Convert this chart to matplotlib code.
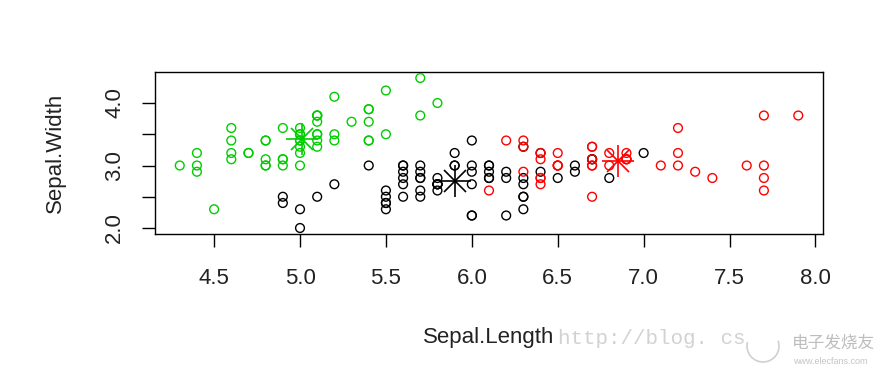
import numpy as np
import matplotlib
matplotlib.use("Agg")
from matplotlib import pyplot as plt
from matplotlib.patches import Arc

# iris sepal measurements, in data order (setosa, versicolor, virginica)
sepal_length = [
    5.1, 4.9, 4.7, 4.6, 5.0, 5.4, 4.6, 5.0, 4.4, 4.9, 5.4, 4.8, 4.8, 4.3, 5.8, 5.7, 5.4, 5.1, 5.7, 5.1,
    5.4, 5.1, 4.6, 5.1, 4.8, 5.0, 5.0, 5.2, 5.2, 4.7, 4.8, 5.4, 5.2, 5.5, 4.9, 5.0, 5.5, 4.9, 4.4, 5.1,
    5.0, 4.5, 4.4, 5.0, 5.1, 4.8, 5.1, 4.6, 5.3, 5.0,
    7.0, 6.4, 6.9, 5.5, 6.5, 5.7, 6.3, 4.9, 6.6, 5.2, 5.0, 5.9, 6.0, 6.1, 5.6, 6.7, 5.6, 5.8, 6.2, 5.6,
    5.9, 6.1, 6.3, 6.1, 6.4, 6.6, 6.8, 6.7, 6.0, 5.7, 5.5, 5.5, 5.8, 6.0, 5.4, 6.0, 6.7, 6.3, 5.6, 5.5,
    5.5, 6.1, 5.8, 5.0, 5.6, 5.7, 5.7, 6.2, 5.1, 5.7,
    6.3, 5.8, 7.1, 6.3, 6.5, 7.6, 4.9, 7.3, 6.7, 7.2, 6.5, 6.4, 6.8, 5.7, 5.8, 6.4, 6.5, 7.7, 7.7, 6.0,
    6.9, 5.6, 7.7, 6.3, 6.7, 7.2, 6.2, 6.1, 6.4, 7.2, 7.4, 7.9, 6.4, 6.3, 6.1, 7.7, 6.3, 6.4, 6.0, 6.9,
    6.7, 6.9, 5.8, 6.8, 6.7, 6.7, 6.3, 6.5, 6.2, 5.9,
]
sepal_width = [
    3.5, 3.0, 3.2, 3.1, 3.6, 3.9, 3.4, 3.4, 2.9, 3.1, 3.7, 3.4, 3.0, 3.0, 4.0, 4.4, 3.9, 3.5, 3.8, 3.8,
    3.4, 3.7, 3.6, 3.3, 3.4, 3.0, 3.4, 3.5, 3.4, 3.2, 3.1, 3.4, 4.1, 4.2, 3.1, 3.2, 3.5, 3.6, 3.0, 3.4,
    3.5, 2.3, 3.2, 3.5, 3.8, 3.0, 3.8, 3.2, 3.7, 3.3,
    3.2, 3.2, 3.1, 2.3, 2.8, 2.8, 3.3, 2.4, 2.9, 2.7, 2.0, 3.0, 2.2, 2.9, 2.9, 3.1, 3.0, 2.7, 2.2, 2.5,
    3.2, 2.8, 2.5, 2.8, 2.9, 3.0, 2.8, 3.0, 2.9, 2.6, 2.4, 2.4, 2.7, 2.7, 3.0, 3.4, 3.1, 2.3, 3.0, 2.5,
    2.6, 3.0, 2.6, 2.3, 2.7, 3.0, 2.9, 2.9, 2.5, 2.8,
    3.3, 2.7, 3.0, 2.9, 3.0, 3.0, 2.5, 2.9, 2.5, 3.6, 3.2, 2.7, 3.0, 2.5, 2.8, 3.2, 3.0, 3.8, 2.6, 2.2,
    3.2, 2.8, 2.8, 2.7, 3.3, 3.2, 2.8, 3.0, 2.8, 3.0, 2.8, 3.8, 2.8, 2.8, 2.6, 3.0, 3.4, 3.1, 3.0, 3.1,
    3.1, 3.1, 2.7, 3.2, 3.3, 3.0, 2.5, 3.0, 3.4, 3.0,
]
# k-means cluster of each flower (1 = black, 2 = red, 3 = green)
cluster = (
    [3] * 50
    + [1, 1, 2, 1, 1, 1, 1, 1, 1, 1, 1, 1, 1, 1, 1, 1, 1, 1, 1, 1, 1, 1, 1, 1, 1,
       1, 1, 2, 1, 1, 1, 1, 1, 1, 1, 1, 1, 1, 1, 1, 1, 1, 1, 1, 1, 1, 1, 1, 1, 1]
    + [2, 1, 2, 2, 2, 2, 1, 2, 2, 2, 2, 2, 2, 1, 1, 2, 2, 2, 2, 1, 2, 1, 2, 1, 2,
       2, 1, 1, 2, 2, 2, 2, 2, 1, 2, 2, 2, 2, 1, 2, 2, 2, 1, 2, 2, 2, 1, 2, 2, 1]
)
# cluster centres (Sepal.Length, Sepal.Width)
center_length = [5.90, 6.85, 5.01]
center_width = [2.75, 3.07, 3.43]
palette = {1: "black", 2: "#FF0000", 3: "#00CD00"}

x_ticks = [4.5, 5.0, 5.5, 6.0, 6.5, 7.0, 7.5, 8.0]
y_ticks = [2.0, 2.5, 3.0, 3.5, 4.0]
y_tick_labels = ["2.0", "", "3.0", "", "4.0"]

plt.rcParams['font.family'] = ['Liberation Sans', 'DejaVu Sans']

fig = plt.figure(figsize=(8.95, 3.77), dpi=100)
ax = fig.add_axes([155 / 895, 1 - 234 / 377, 668 / 895, 162 / 377])

x = np.array(sepal_length)
y = np.array(sepal_width)
cl = np.array(cluster)
for k in (1, 2, 3):
    m = cl == k
    ax.scatter(x[m], y[m], s=40, facecolors='none', edgecolors=palette[k], linewidths=1.0, zorder=3)

for k, (cx, cy) in enumerate(zip(center_length, center_width), start=1):
    ax.plot(cx, cy, marker='+', markersize=23, color=palette[k], mew=1.2, zorder=4)
    ax.plot(cx, cy, marker='x', markersize=16, color=palette[k], mew=1.2, zorder=4)

xmin, xmax = min(sepal_length), max(sepal_length)
ymin, ymax = min(sepal_width), max(sepal_width)
ax.set_xlim(xmin - 0.04 * (xmax - xmin), xmax + 0.04 * (xmax - xmin))
ax.set_ylim(ymin - 0.04 * (ymax - ymin), ymax + 0.04 * (ymax - ymin))

ax.set_xticks(x_ticks)
ax.set_xticklabels([f"{v:.1f}" for v in x_ticks])
ax.set_yticks(y_ticks)
ax.set_yticklabels(y_tick_labels)
ax.tick_params(axis='both', direction='out', length=9.5, width=1.0, labelsize=16,
               colors='black', labelcolor='#222222')
ax.tick_params(axis='x', pad=15)
ax.tick_params(axis='y', pad=12)
for lab in ax.get_yticklabels():
    lab.set_rotation(90)
    lab.set_va('center')
for s in ax.spines.values():
    s.set_linewidth(1.0)
    s.set_color('black')

ax.set_xlabel("Sepal.Length", fontsize=16, color='#222222')
ax.set_ylabel("Sepal.Width", fontsize=16, color='#222222')
ax.xaxis.set_label_coords(0.5, -0.636)
ax.yaxis.set_label_coords(-0.1497, 0.5)
ax.xaxis.label.set_va('center')
ax.yaxis.label.set_va('center')

# faint watermark from the source page
fig.text(558 / 895, 1 - 339 / 377, "http://blog. cs", fontsize=15, color='#d2d2d2',
         family='Liberation Mono', va='center', ha='left', zorder=0)
fig.add_artist(Arc((763 / 895, 1 - 346 / 377), 32 / 895, 32 / 377, theta1=150, theta2=400,
                   color='#d0d0d0', lw=1.2, transform=fig.transFigure))
fig.text(792 / 895, 1 - 343 / 377, "电子发烧友", fontsize=12, color='#bdbdbd',
         family=['Noto Sans CJK SC', 'DejaVu Sans'], va='center', ha='left')
fig.text(793 / 895, 1 - 361 / 377, "www.elecfans.com", fontsize=6.5, color='#c4c4c4',
         va='center', ha='left')

fig.savefig("out.png", dpi=100)
